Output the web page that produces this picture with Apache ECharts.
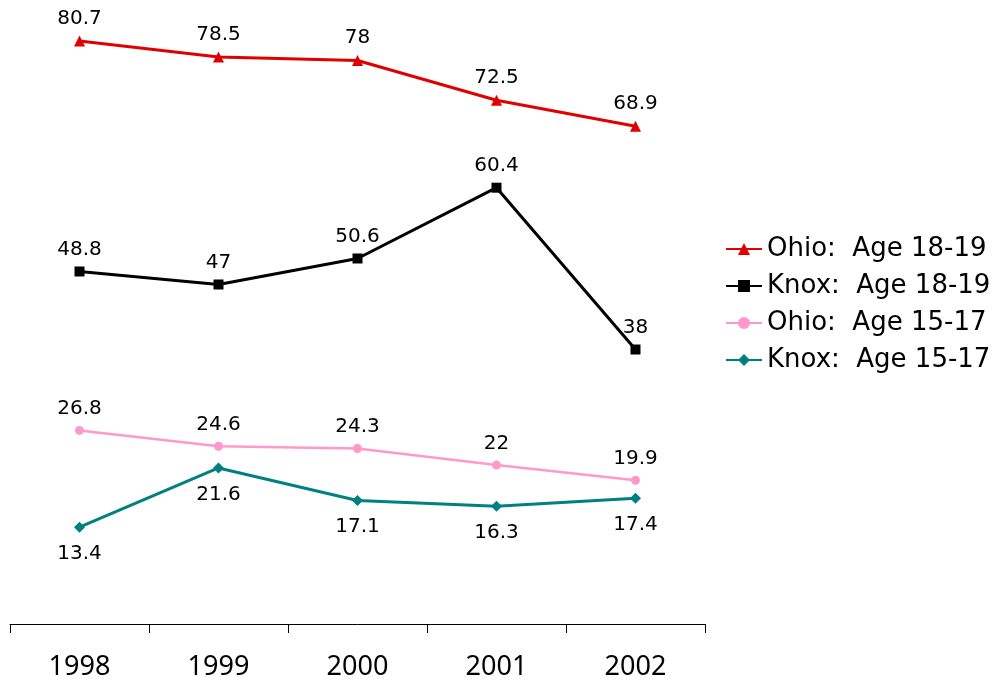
<!DOCTYPE html>
<html>
<head>
<meta charset="utf-8">
<script src="https://cdn.jsdelivr.net/npm/echarts@6/dist/echarts.min.js"></script>
<style>
  html, body { margin: 0; padding: 0; background: #fff; }
  #chart { width: 1000px; height: 681px; }
</style>
</head>
<body>
<div id="chart"></div>
<script>
const years = ['1998', '1999', '2000', '2001', '2002']
const ohio1819 = [80.7, 78.5, 78, 72.5, 68.9]
const knox1819 = [48.8, 47, 50.6, 60.4, 38]
const ohio1517 = [26.8, 24.6, 24.3, 22, 19.9]
const knox1517 = [13.4, 21.6, 17.1, 16.3, 17.4]

const labelFont = { fontFamily: 'DejaVu Sans', fontSize: 20, color: '#000' }

const makeSeries = (name, data, color, symbol, size, width, pos, dist) => ({
  name,
  type: 'line',
  data,
  symbol,
  symbolSize: size,
  itemStyle: { color },
  lineStyle: { color, width },
  label: { show: true, position: pos, distance: dist, ...labelFont },
  emphasis: { disabled: true }
})

const chart = echarts.init(document.getElementById('chart'))
chart.setOption({
  animation: false,
  grid: { left: 10, right: 295, top: 10, bottom: 57 },
  legend: {
    orient: 'vertical',
    left: 720,
    top: 231,
    itemWidth: 36,
    itemHeight: 15,
    itemGap: 11,
    textStyle: { fontFamily: 'DejaVu Sans', fontSize: 26, color: '#000' },
    data: ['Ohio:  Age 18-19', 'Knox:  Age 18-19', 'Ohio:  Age 15-17', 'Knox:  Age 15-17']
  },
  xAxis: {
    type: 'category',
    data: years,
    boundaryGap: true,
    axisLine: { lineStyle: { color: '#000', width: 1 } },
    axisTick: { show: true, length: 9, lineStyle: { color: '#000' } },
    axisLabel: { fontFamily: 'Noto Sans', fontSize: 27, color: '#000', margin: 30 }
  },
  yAxis: {
    type: 'value',
    min: 0,
    max: 85,
    show: false,
    splitLine: { show: false }
  },
  series: [
    makeSeries('Ohio:  Age 18-19', ohio1819, '#e00000', 'triangle', 11, 3, 'top', 7),
    makeSeries('Knox:  Age 18-19', knox1819, '#000000', 'rect', 10, 3, 'top', 7),
    makeSeries('Ohio:  Age 15-17', ohio1517, '#ff99cc', 'circle', 9, 2.5, 'top', 7),
    makeSeries('Knox:  Age 15-17', knox1517, '#008080', 'diamond', 11, 3, 'bottom', 11)
  ]
})
window.addEventListener('resize', () => chart.resize())
</script>
</body>
</html>
